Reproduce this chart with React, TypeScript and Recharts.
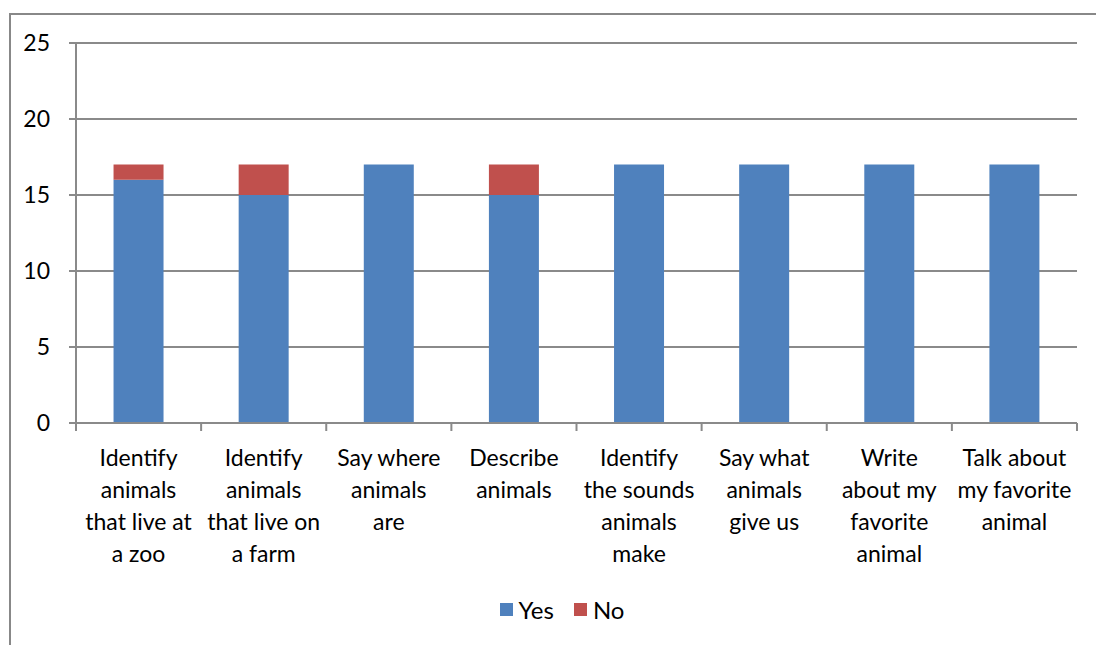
import React from 'react';
import { BarChart, Bar, XAxis, YAxis, CartesianGrid, Legend } from 'recharts';

const categories = [
  'Identify\nanimals\nthat live at\na zoo',
  'Identify\nanimals\nthat live on\na farm',
  'Say where\nanimals\nare',
  'Describe\nanimals',
  'Identify\nthe sounds\nanimals\nmake',
  'Say what\nanimals\ngive us',
  'Write\nabout my\nfavorite\nanimal',
  'Talk about\nmy favorite\nanimal',
];
const yesValues = [16, 15, 17, 15, 17, 17, 17, 17];
const noValues = [1, 2, 0, 2, 0, 0, 0, 0];
const yTicks = [0, 5, 10, 15, 20, 25];
const seriesOrder = ['Yes', 'No'];

const data = categories.map((c, i) => ({ name: c, Yes: yesValues[i], No: noValues[i] }));

const FONT = 'Lato, "Liberation Sans", sans-serif';
const GRID = '#8a8a8a';

const XTick = (props: any) => {
  const { x, y, payload, index } = props;
  const half = payload && typeof payload.offset === 'number' ? payload.offset : 0;
  const lines = String(payload.value).split('\n');
  const top = y - 8;
  return (
    <g>
      <line x1={x - half} y1={top} x2={x - half} y2={top + 8} stroke={GRID} strokeWidth={2} />
      {index === categories.length - 1 && (
        <line x1={x + half} y1={top} x2={x + half} y2={top + 8} stroke={GRID} strokeWidth={2} />
      )}
      {lines.map((l, i) => (
        <text key={i} x={x} y={top + 35 + i * 32} dy="0.35em" textAnchor="middle" fontSize={23} fontFamily={FONT} fill="#000">
          {l}
        </text>
      ))}
    </g>
  );
};

const LegendContent = (props: any) => {
  const payload = [...(props.payload || [])].sort(
    (a: any, b: any) => seriesOrder.indexOf(a.value) - seriesOrder.indexOf(b.value)
  );
  return (
    <div style={{ display: 'flex', justifyContent: 'center', alignItems: 'center', fontFamily: FONT, fontSize: 24, color: '#000' }}>
      {payload.map((p: any, i: number) => (
        <div key={i} style={{ display: 'flex', alignItems: 'center', marginRight: i === 0 ? 20 : 0 }}>
          <div style={{ width: 13, height: 13, background: p.color, marginRight: 6 }} />
          <span>{p.value}</span>
        </div>
      ))}
    </div>
  );
};

export default function App() {
  return (
    <div style={{ position: 'fixed', left: 0, top: 0, width: 1096, height: 645, overflow: 'hidden', background: '#fff' }}>
      <div style={{ position: 'absolute', left: 9, top: 13, width: 1200, height: 800, border: '2px solid #888', boxSizing: 'border-box' }} />
      <div style={{ position: 'absolute', left: 0, top: 0 }}>
        <BarChart width={1096} height={645} data={data} margin={{ top: 43, right: 19, left: 0, bottom: 0 }} barCategoryGap="30%">
          <CartesianGrid vertical={false} stroke={GRID} strokeWidth={2} />
          <XAxis
            dataKey="name"
            height={222}
            interval={0}
            tickLine={false}
            tickSize={8}
            tickMargin={0}
            axisLine={{ stroke: GRID, strokeWidth: 2 }}
            tick={<XTick />}
          />
          <YAxis
            width={76}
            domain={[0, 25]}
            ticks={yTicks}
            tickSize={7}
            tickMargin={19}
            axisLine={{ stroke: GRID, strokeWidth: 2 }}
            tickLine={{ stroke: GRID, strokeWidth: 2 }}
            tick={{ fontSize: 23, fontFamily: FONT, fill: '#000' }}
          />
          <Legend
            layout="horizontal"
            verticalAlign="middle"
            align="center"
            wrapperStyle={{ top: 595, left: 14, width: 1096 }}
            content={<LegendContent />}
          />
          <Bar dataKey="Yes" stackId="a" fill="#4F81BD" isAnimationActive={false} />
          <Bar dataKey="No" stackId="a" fill="#C0504D" isAnimationActive={false} />
        </BarChart>
      </div>
    </div>
  );
}
